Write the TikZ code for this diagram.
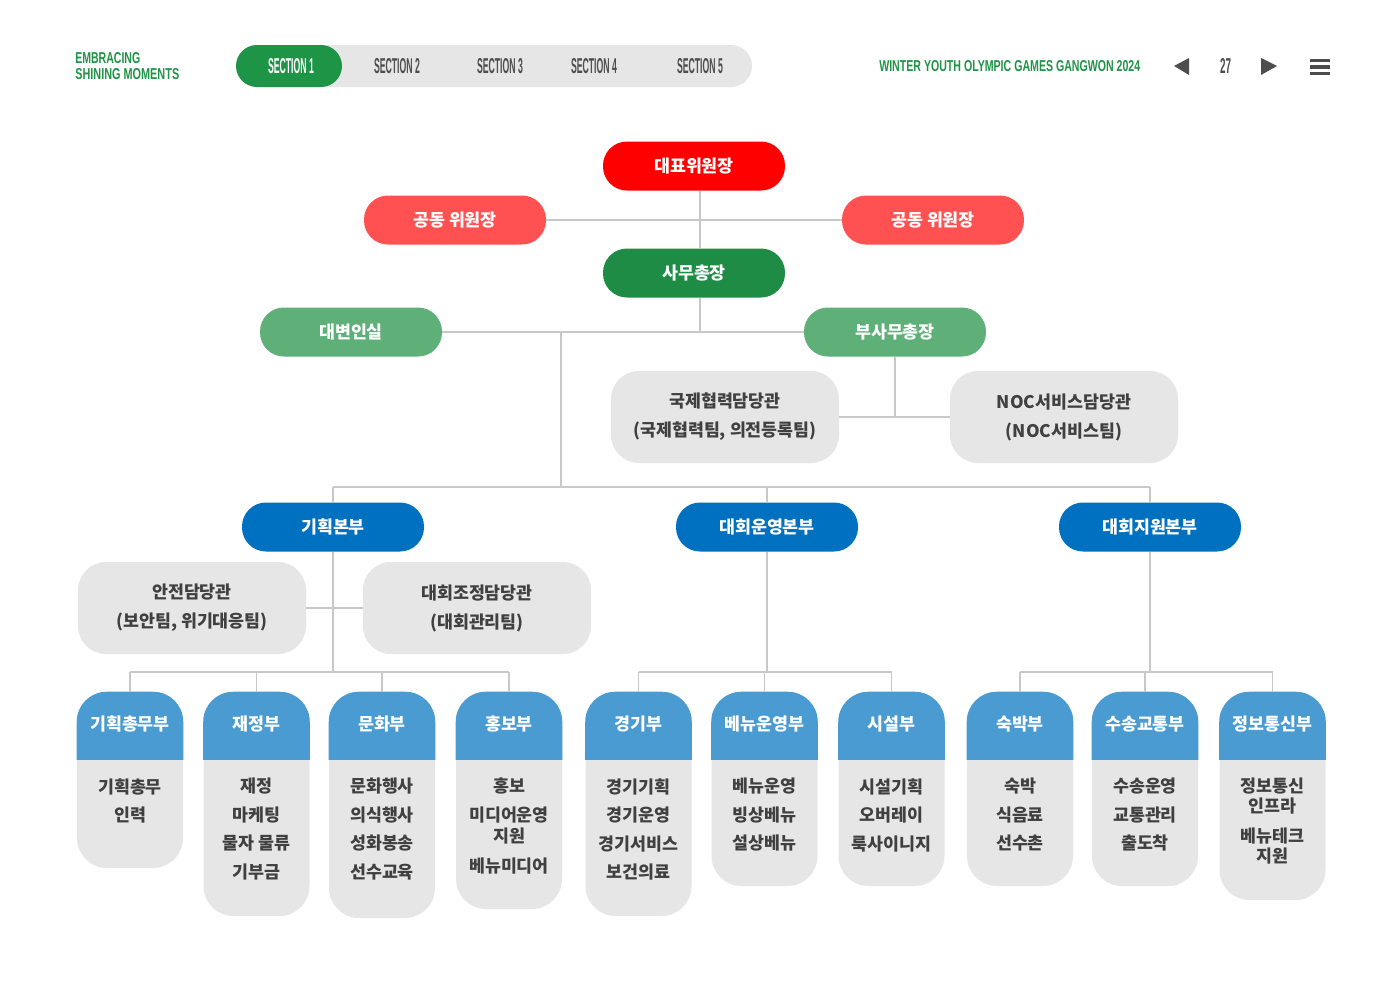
\documentclass[tikz,border=0pt]{standalone}
\usepackage{fontspec}
\usepackage{graphicx}
\setmainfont{Liberation Sans}
\newfontfamily\kr{Noto Sans CJK KR}
\newlength\upx
\setlength\upx{0.75pt}
\definecolor{brandgreen}{HTML}{1E9447}
\definecolor{barg}{HTML}{E6E6E6}
\definecolor{secg}{HTML}{4D4D4D}
\definecolor{topred}{HTML}{FF0000}
\definecolor{cored}{HTML}{FF5052}
\definecolor{secgreen}{HTML}{1E8C45}
\definecolor{litegreen}{HTML}{5EAF78}
\definecolor{hqblue}{HTML}{0070C0}
\definecolor{hdblue}{HTML}{4A9BD2}
\definecolor{boxg}{HTML}{E6E6E6}
\definecolor{txtg}{HTML}{404040}
\definecolor{lineg}{HTML}{C8C8C8}

\newcommand\deptcard[5]{%
  \node[card, minimum height={(#3-692)*0.75}] (#1) at (#2,{(692+#3)/2}) {};
  \begin{scope}
    \clip (#1.north west) rectangle (#1.east |- 0,759);
    \fill[hdblue, rounded corners=30\upx] (#1.north west) rectangle (#1.south east);
  \end{scope}
  \node[hdtext] (#1h) at (#2,724) {#4};
  \node[bodytext] (#1b) at (#2,778) {#5};
}

\begin{document}
\begin{tikzpicture}[x=0.75pt,y=-0.75pt,
  kfont/.style={font=\kr\bfseries\fontsize{13}{15}\selectfont},
  pill/.style={kfont, rounded corners=24\upx, minimum width=182\upx, minimum height=49\upx, inner sep=0, text=white},
  graybox/.style={font=\kr\bfseries\fontsize{13}{21.75}\selectfont, fill=boxg, rounded corners=28\upx, minimum width=228\upx, minimum height=92\upx, inner sep=0, align=center, text=txtg},
  card/.style={fill=boxg, rounded corners=30\upx, minimum width=106\upx, inner sep=0},
  hdtext/.style={kfont, text=white, inner sep=0},
  bodytext/.style={font=\kr\bfseries\fontsize{13}{21.4}\selectfont, text=txtg, align=center, inner sep=0, anchor=north},
  ln/.style={draw=lineg, line width=1pt},
  hdr/.style={inner sep=0, anchor=center}
]
\useasboundingbox (0,0) rectangle (1400,990);
\fill[white] (0,0) rectangle (1400,990);

% ---------- header ----------
\node[hdr, anchor=west, text=brandgreen] (emb) at (75,58) {\resizebox{65\upx}{11\upx}{\bfseries EMBRACING}};
\node[hdr, anchor=west, text=brandgreen] (shin) at (75,74) {\resizebox{104\upx}{11\upx}{\bfseries SHINING MOMENTS}};
\fill[barg, rounded corners=21\upx] (236,45) rectangle (752,87);
\fill[brandgreen, rounded corners=21\upx] (236,45) rectangle (342,87);
\node[hdr, text=white] (s1) at (291,66) {\resizebox{46\upx}{15\upx}{\bfseries SECTION 1}};
\node[hdr, text=secg] (s2) at (397,66) {\resizebox{46\upx}{15\upx}{\bfseries SECTION 2}};
\node[hdr, text=secg] (s3) at (500,66) {\resizebox{46\upx}{15\upx}{\bfseries SECTION 3}};
\node[hdr, text=secg] (s4) at (594,66) {\resizebox{46\upx}{15\upx}{\bfseries SECTION 4}};
\node[hdr, text=secg] (s5) at (700,66) {\resizebox{46\upx}{15\upx}{\bfseries SECTION 5}};
\node[hdr, anchor=west, text=brandgreen] (wyog) at (879,66) {\resizebox{261\upx}{11\upx}{\bfseries WINTER YOUTH OLYMPIC GAMES GANGWON 2024}};
\fill[secg] (1174,66) -- (1189,58) -- (1189,75) -- cycle;
\node[hdr, text=secg] (pg) at (1225.5,66) {\resizebox{11\upx}{15\upx}{\bfseries 27}};
\fill[secg] (1261,58) -- (1261,75) -- (1277,66) -- cycle;
\fill[secg] (1310,58.5) rectangle (1330,62);
\fill[secg] (1310,65) rectangle (1330,68.5);
\fill[secg] (1310,71.5) rectangle (1330,75);

% ---------- top levels ----------
\coordinate (sp) at (700,0);
\node[pill, fill=topred] (top) at (694,166) {대표위원장};
\node[pill, fill=cored] (co1) at (455,220) {공동 위원장};
\node[pill, fill=cored] (co2) at (933,220) {공동 위원장};
\node[pill, fill=secgreen] (sec) at (694,273) {사무총장};
\node[pill, fill=litegreen] (spk) at (351,332) {대변인실};
\node[pill, fill=litegreen] (dep) at (895,332) {부사무총장};
\node[graybox] (intl) at (725,417) {국제협력담당관\\(국제협력팀, 의전등록팀)};
\node[graybox] (noc) at (1064,417) {NOC서비스담당관\\(NOC서비스팀)};

\node[pill, fill=hqblue] (hq1) at (333,527) {기획본부};
\node[pill, fill=hqblue] (hq2) at (767,527) {대회운영본부};
\node[pill, fill=hqblue] (hq3) at (1150,527) {대회지원본부};
\node[graybox] (safe) at (192,608) {안전담당관\\(보안팀, 위기대응팀)};
\node[graybox] (coord) at (477,608) {대회조정담당관\\(대회관리팀)};

% ---------- cards ----------
\deptcard{c1}{130}{868}{기획총무부}{기획총무\\인력}
\deptcard{c2}{256.5}{916}{재정부}{재정\\마케팅\\물자 물류\\기부금}
\deptcard{c3}{382}{918}{문화부}{문화행사\\의식행사\\성화봉송\\선수교육}
\deptcard{c4}{509}{909}{홍보부}{홍보\\미디어운영\\[-5.6pt]지원\\[1.1pt]베뉴미디어}
\deptcard{c5}{638.5}{916}{경기부}{경기기획\\경기운영\\경기서비스\\보건의료}
\deptcard{c6}{764.5}{886}{베뉴운영부}{베뉴운영\\빙상베뉴\\설상베뉴}
\deptcard{c7}{891.5}{886}{시설부}{시설기획\\오버레이\\룩사이니지}
\deptcard{c8}{1020}{886}{숙박부}{숙박\\식음료\\선수촌}
\deptcard{c9}{1145}{886}{수송교통부}{수송운영\\교통관리\\출도착}
\deptcard{c10}{1272.5}{900}{정보통신부}{정보통신\\[-6.4pt]인프라\\[1.1pt]베뉴테크\\[-6.4pt]지원}

% ---------- connectors ----------
\draw[ln] (top.south -| sp) -- (sec.north -| sp);
\draw[ln] (co1.east) -- (co2.west);
\draw[ln] (sec.south -| sp) -- (sp |- dep.west);
\draw[ln] (spk.east) -- (dep.west);
\coordinate (j1) at (561,332);
\coordinate (j2) at (561,487);
\draw[ln] (j1) -- (j2);
\draw[ln] (dep.south) -- (dep.south |- intl.east);
\draw[ln] (intl.east) -- (noc.west);
\draw[ln] (j2 -| hq1) -- (j2 -| hq3);
\draw[ln] (j2 -| hq1) -- (hq1.north);
\draw[ln] (j2 -| hq2) -- (hq2.north);
\draw[ln] (j2 -| hq3) -- (hq3.north);
\coordinate (b1) at (333,672);
\draw[ln] (hq1.south) -- (b1);
\draw[ln] (safe.east) -- (coord.west);
\draw[ln] (b1 -| c1) -- (b1 -| c4);
\foreach \c in {c1,c2,c3,c4} {\draw[ln] (b1 -| \c) -- (\c.north);}
\draw[ln] (hq2.south) -- (hq2.south |- b1);
\draw[ln] (b1 -| c5) -- (b1 -| c7);
\foreach \c in {c5,c6,c7} {\draw[ln] (b1 -| \c) -- (\c.north);}
\draw[ln] (hq3.south) -- (hq3.south |- b1);
\draw[ln] (b1 -| c8) -- (b1 -| c10);
\foreach \c in {c8,c9,c10} {\draw[ln] (b1 -| \c) -- (\c.north);}
\end{tikzpicture}
\end{document}
